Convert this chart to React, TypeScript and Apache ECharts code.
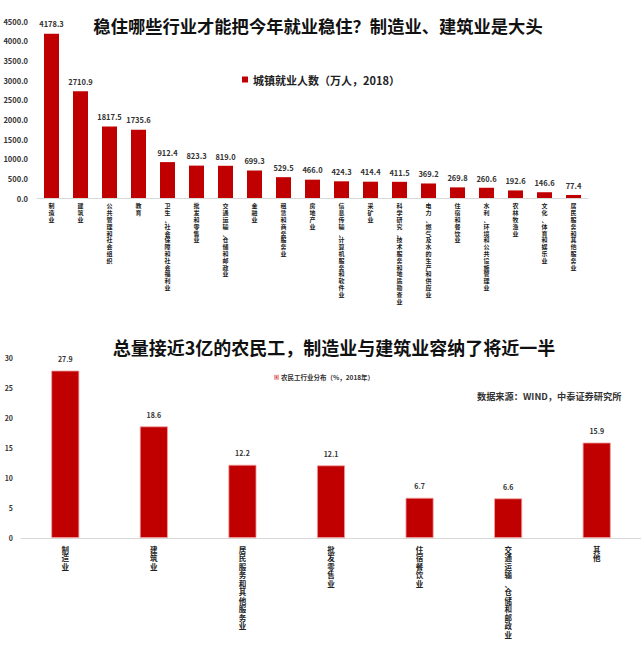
import React, { useEffect, useRef } from 'react';
import * as echarts from 'echarts';

// 上图：城镇就业人数（万人，2018）
const urbanCategories = [
  '制造业',
  '建筑业',
  '公共管理和社会组织',
  '教育',
  '卫生、社会保障和社会福利业',
  '批发和零售业',
  '交通运输、仓储和邮政业',
  '金融业',
  '租赁和商务服务业',
  '房地产业',
  '信息传输、计算机服务和软件业',
  '采矿业',
  '科学研究、技术服务和地质勘查业',
  '电力、燃气及水的生产和供应业',
  '住宿和餐饮业',
  '水利、环境和公共设施管理业',
  '农林牧渔业',
  '文化、体育和娱乐业',
  '居民服务和其他服务业',
];
const urbanValues = [
  4178.3, 2710.9, 1817.5, 1735.6, 912.4, 823.3, 819.0, 699.3, 529.5, 466.0,
  424.3, 414.4, 411.5, 369.2, 269.8, 260.6, 192.6, 146.6, 77.4,
];

// 下图：农民工行业分布（%，2018年）
const migrantCategories = [
  '制造业',
  '建筑业',
  '居民服务和其他服务业',
  '批发零售业',
  '住宿餐饮业',
  '交通运输、仓储和邮政业',
  '其他',
];
const migrantValues = [27.9, 18.6, 12.2, 12.1, 6.7, 6.6, 15.9];

const RED = '#C00000';
const FONT = '"Noto Sans CJK SC", "Noto Sans", sans-serif';
// 竖排标签：拉丁字体的行高较小，字形回退到思源黑体
const LABEL_FONT = '"Liberation Sans", "Noto Sans CJK SC", sans-serif';

const vertical = (s: string) => s.split('').join('\n');

export default function App() {
  const chartRef = useRef<HTMLDivElement>(null);

  useEffect(() => {
    document.body.style.margin = '0';
    if (!chartRef.current) return;
    const chart = echarts.init(chartRef.current, undefined, { renderer: 'svg' });

    const option: echarts.EChartsOption = {
      animation: false,
      textStyle: { fontFamily: FONT },
      grid: [
        { left: 37, top: 21, width: 551, height: 177 },
        { left: 21, top: 358, width: 620, height: 180 },
      ],
      legend: [
        {
          data: ['城镇就业人数（万人，2018）'],
          left: 237,
          top: 69,
          itemWidth: 6,
          itemHeight: 6,
          icon: 'rect',
          textStyle: { fontSize: 11, fontWeight: 'bold', color: '#222', fontFamily: FONT },
        },
        {
          data: ['农民工行业分布（%，2018年）'],
          left: 269,
          top: 369,
          itemWidth: 3,
          itemHeight: 3,
          itemGap: 2,
          icon: 'rect',
          textStyle: { fontSize: 6.5, fontWeight: 'bold', color: '#333', fontFamily: FONT, padding: [0, 0, 0, -2] },
        },
      ],
      xAxis: [
        {
          type: 'category',
          gridIndex: 0,
          data: urbanCategories,
          axisLine: { lineStyle: { color: '#d9d9d9' } },
          axisTick: { show: false },
          axisLabel: {
            interval: 0,
            margin: 5,
            fontSize: 6,
            lineHeight: 6.8,
            fontWeight: 'bold',
            fontFamily: LABEL_FONT,
            color: '#222',
            verticalAlign: 'top',
            formatter: (v: string) => vertical(v),
          },
        },
        {
          type: 'category',
          gridIndex: 1,
          data: migrantCategories,
          axisLine: { lineStyle: { color: '#d9d9d9' } },
          axisTick: { show: false },
          axisLabel: {
            interval: 0,
            margin: 8,
            fontSize: 7.5,
            lineHeight: 8.5,
            fontWeight: 'bold',
            fontFamily: LABEL_FONT,
            color: '#222',
            verticalAlign: 'top',
            formatter: (v: string) => vertical(v),
          },
        },
      ],
      yAxis: [
        {
          type: 'value',
          gridIndex: 0,
          min: 0,
          max: 4500,
          interval: 500,
          splitLine: { show: false },
          axisLine: { show: false },
          axisTick: { show: false },
          axisLabel: {
            margin: 9,
            fontSize: 7.5,
            fontWeight: 'bold',
            color: '#333',
            formatter: (v: number) => v.toFixed(1),
          },
        },
        {
          type: 'value',
          gridIndex: 1,
          min: 0,
          max: 30,
          interval: 5,
          splitLine: { show: false },
          axisLine: { show: false },
          axisTick: { show: false },
          axisLabel: { margin: 8, fontSize: 7, fontWeight: 'bold', color: '#333' },
        },
      ],
      series: [
        {
          name: '城镇就业人数（万人，2018）',
          type: 'bar',
          xAxisIndex: 0,
          yAxisIndex: 0,
          data: urbanValues,
          barWidth: 15,
          itemStyle: { color: RED },
          label: {
            show: true,
            position: 'top',
            distance: 6,
            fontSize: 7.5,
            fontWeight: 'bold',
            color: '#333',
            formatter: (p: any) => Number(p.value).toFixed(1),
          },
        },
        {
          name: '农民工行业分布（%，2018年）',
          type: 'bar',
          xAxisIndex: 1,
          yAxisIndex: 1,
          data: migrantValues,
          barWidth: 28,
          itemStyle: { color: RED, borderColor: '#f0a0a0', borderWidth: 0.8 },
          label: {
            show: true,
            position: 'top',
            distance: 8,
            fontSize: 7,
            fontWeight: 'bold',
            color: '#333',
            formatter: (p: any) => Number(p.value).toFixed(1),
          },
        },
      ],
      graphic: [
        {
          type: 'text',
          x: 318,
          y: 25,
          style: {
            text: '稳住哪些行业才能把今年就业稳住？制造业、建筑业是大头',
            font: `bold 17.3px ${FONT}`,
            fill: '#111',
            textAlign: 'center',
            textVerticalAlign: 'middle',
          },
        },
        {
          type: 'text',
          x: 334,
          y: 347,
          style: {
            text: '总量接近3亿的农民工，制造业与建筑业容纳了将近一半',
            font: `bold 18px ${FONT}`,
            fill: '#111',
            textAlign: 'center',
            textVerticalAlign: 'middle',
          },
        },
        {
          type: 'text',
          x: 477,
          y: 396,
          style: {
            text: '数据来源：WIND，中泰证券研究所',
            font: `bold 9.2px ${FONT}`,
            fill: '#333',
            textAlign: 'left',
            textVerticalAlign: 'middle',
          },
        },
      ],
    };

    chart.setOption(option);
    return () => {
      chart.dispose();
    };
  }, []);

  return <div ref={chartRef} style={{ width: 641, height: 653 }} />;
}
